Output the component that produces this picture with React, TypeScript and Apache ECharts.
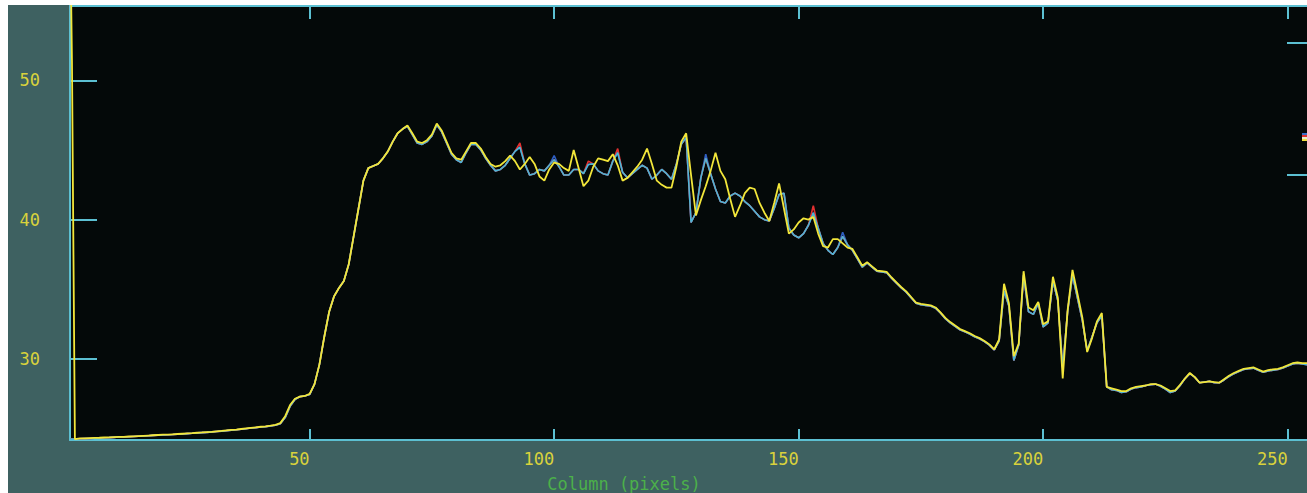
import React, { useEffect, useRef } from "react";
import * as echarts from "echarts";

// Column values (x = 1..255) shared by the cyan / blue / red traces
const common = [
  24.25, 24.25, 24.28, 24.3, 24.3, 24.32, 24.33, 24.35, 24.36, 24.38,
  24.4, 24.41, 24.42, 24.44, 24.46, 24.48, 24.5, 24.52, 24.54, 24.55,
  24.57, 24.58, 24.6, 24.62, 24.65, 24.67, 24.7, 24.72, 24.74, 24.77,
  24.8, 24.83, 24.86, 24.9, 24.93, 24.96, 25.0, 25.05, 25.08, 25.12,
  25.15, 25.2, 25.25, 25.35, 25.8, 26.6, 27.1, 27.3, 27.35, 27.45,
  28.2, 29.6, 31.6, 33.4, 34.5, 35.1, 35.6, 36.8, 38.8, 40.8,
  42.8, 43.7, 43.85, 44.0, 44.4, 44.9, 45.6, 46.2, 46.5, 46.7,
  46.1, 45.5, 45.4, 45.6, 46.0, 46.8, 46.3, 45.5, 44.7, 44.3,
  44.1, 44.8, 45.4, 45.4, 45.0, 44.4, 43.9, 43.5, 43.6, 43.9,
  44.4, 44.9, 45.2, 44.0, 43.2, 43.3, 43.6, 43.5, 43.9, 44.3,
  43.8, 43.2, 43.2, 43.6, 43.6, 43.3, 43.96, 44.0, 43.5, 43.3,
  43.2, 44.2, 44.8, 43.4, 43.0, 43.3, 43.6, 43.9, 43.7, 42.9,
  43.2, 43.6, 43.3, 42.9, 44.0, 45.4, 45.9, 39.8, 40.5, 43.0,
  44.4, 43.3, 42.2, 41.3, 41.2, 41.7, 41.9, 41.7, 41.3, 41.0,
  40.6, 40.2, 40.0, 39.9, 40.8, 41.8, 41.9, 39.4, 38.9, 38.7,
  39.0, 39.6, 40.5, 39.4, 38.3, 37.8, 37.5, 38.0, 38.8, 38.2,
  37.8, 37.2, 36.6, 36.9, 36.6, 36.3, 36.25, 36.2, 35.8, 35.45,
  35.1, 34.8, 34.4, 34.0, 33.9, 33.85, 33.8, 33.65, 33.3, 32.9,
  32.6, 32.35, 32.1, 31.95, 31.8, 31.6, 31.45, 31.25, 31.0, 30.65,
  31.3, 34.9, 33.8, 29.9, 31.0, 36.0, 33.4, 33.2, 34.0, 32.3,
  32.6, 35.6, 34.2, 29.4, 33.4, 36.0, 34.4, 32.8, 30.6, 31.6,
  32.6, 33.1, 28.0, 27.8, 27.75, 27.6, 27.65, 27.85, 27.95, 28.0,
  28.1, 28.15, 28.2, 28.05, 27.85, 27.6, 27.7, 28.1, 28.6, 28.95,
  28.7, 28.3, 28.35, 28.4, 28.3, 28.3, 28.5, 28.75, 28.95, 29.1,
  29.25, 29.3, 29.35, 29.2, 29.05, 29.15, 29.2, 29.25, 29.35, 29.5,
  29.65, 29.7, 29.65, 29.6, 29.55,
];

// Yellow trace: a steep lead-in at the first column, then x = 2..255
const yellowLead = [
  [1, 62],
  [1.4, 51.4],
];
const yellow = [
  24.25, 24.3, 24.3, 24.32, 24.34, 24.35, 24.37, 24.38, 24.4,
  24.41, 24.42, 24.44, 24.45, 24.47, 24.49, 24.51, 24.53, 24.55, 24.57,
  24.58, 24.6, 24.62, 24.64, 24.66, 24.68, 24.71, 24.73, 24.76, 24.78,
  24.81, 24.84, 24.88, 24.91, 24.94, 24.98, 25.02, 25.06, 25.1, 25.14,
  25.17, 25.22, 25.28, 25.4, 25.9, 26.7, 27.15, 27.3, 27.35, 27.5,
  28.2, 29.6, 31.6, 33.4, 34.5, 35.1, 35.6, 36.8, 38.8, 40.8,
  42.8, 43.7, 43.85, 44.0, 44.4, 44.9, 45.6, 46.2, 46.5, 46.75,
  46.2, 45.6, 45.5, 45.7, 46.1, 46.9, 46.4, 45.6, 44.8, 44.4,
  44.3, 44.9, 45.5, 45.5, 45.1, 44.5, 44.0, 43.8, 43.9, 44.2,
  44.6, 44.2, 43.6, 44.0, 44.5, 44.0, 43.1, 42.8, 43.6, 44.1,
  44.0, 43.7, 43.5, 45.0, 43.7, 42.4, 42.8, 43.8, 44.4, 44.3,
  44.2, 44.7, 43.9, 42.8, 43.0, 43.4, 43.8, 44.3, 45.1, 44.0,
  42.8, 42.5, 42.3, 42.3, 43.8, 45.6, 46.2, 43.2, 40.3, 41.4,
  42.4, 43.5, 44.8, 43.5, 42.9, 41.5, 40.2, 41.0, 41.9, 42.3,
  42.2, 41.2, 40.5, 39.9, 41.2, 42.6, 40.8, 39.0, 39.3, 39.8,
  40.1, 40.0, 40.2, 39.0, 38.1, 38.0, 38.6, 38.6, 38.3, 38.0,
  37.9, 37.3, 36.7, 36.95, 36.65, 36.35, 36.3, 36.25, 35.85, 35.5,
  35.15, 34.85, 34.45, 34.05, 33.95, 33.9, 33.85, 33.7, 33.35, 32.95,
  32.65, 32.4, 32.15, 32.0, 31.85, 31.65, 31.5, 31.3, 31.05, 30.7,
  31.4, 35.4, 34.0, 30.2, 31.1, 36.3, 33.7, 33.5, 34.1, 32.5,
  32.7, 35.9, 34.4, 28.6, 33.5, 36.4, 34.7, 33.0, 30.5, 31.5,
  32.7, 33.3, 28.0, 27.9, 27.8, 27.7, 27.7, 27.9, 28.0, 28.05,
  28.1, 28.2, 28.2, 28.1, 27.9, 27.7, 27.75, 28.15, 28.6, 29.0,
  28.7, 28.3, 28.35, 28.4, 28.35, 28.3, 28.55, 28.8, 29.0, 29.15,
  29.3, 29.35, 29.4, 29.25, 29.1, 29.2, 29.26, 29.3, 29.4, 29.55,
  29.7, 29.75, 29.7, 29.7, 29.65,
];

// Columns where the red / blue traces poke out from under the cyan one
const redPeaks = [
  [93, 45.5],
  [107, 44.2],
  [113, 45.1],
  [153, 41.0],
];
const bluePeaks = [
  [100, 44.6],
  [131, 44.7],
  [159, 39.1],
];

const xTicks = [50, 100, 150, 200, 250];
const yTicks = [30, 40, 50];
const rightTicks = [43.25, 52.7];

const AX = "#5cc0d2";
const LAB = "#d9d23c";
const FONT = "DejaVu Sans Mono";

export default function App() {
  const ref = useRef<HTMLDivElement>(null);

  useEffect(() => {
    if (!ref.current) return;
    const chart = echarts.init(ref.current, null, { renderer: "svg" });

    const cols = common.map((_, i) => i + 1);
    const withPeaks = (peaks: number[][]) =>
      cols.map((x, i) => {
        const p = peaks.find((q) => q[0] === x);
        return [x, p ? p[1] : common[i]];
      });
    const cyanData = cols.map((x, i) => [x, common[i]]);
    const yellowData = [
      ...yellowLead,
      ...yellow.map((v, i) => [i + 2, v]),
    ];

    const lineAxis = { show: true, onZero: false, lineStyle: { color: AX, width: 2 } };

    chart.setOption({
      animation: false,
      backgroundColor: "#3e6161",
      grid: {
        left: 62,
        top: 1,
        right: 21,
        bottom: 53,
        show: true,
        backgroundColor: "#040909",
        borderWidth: 0,
      },
      xAxis: [
        {
          type: "value",
          min: 1,
          max: 256,
          position: "bottom",
          axisLine: lineAxis,
          axisTick: {
            show: true,
            inside: true,
            length: 11,
            customValues: xTicks,
            lineStyle: { color: AX, width: 2 },
          },
          axisLabel: {
            customValues: xTicks,
            color: LAB,
            fontFamily: FONT,
            fontSize: 17,
            align: "right",
            margin: 10,
          },
          splitLine: { show: false },
        },
        {
          type: "value",
          min: 1,
          max: 256,
          position: "top",
          axisLine: lineAxis,
          axisTick: {
            show: true,
            inside: true,
            length: 13,
            customValues: xTicks,
            lineStyle: { color: AX, width: 2 },
          },
          axisLabel: { show: false },
          splitLine: { show: false },
        },
      ],
      yAxis: [
        {
          type: "value",
          min: 24.19,
          max: 55.33,
          position: "left",
          axisLine: lineAxis,
          axisTick: {
            show: true,
            inside: true,
            length: 27,
            customValues: yTicks,
            lineStyle: { color: AX, width: 2 },
          },
          axisLabel: {
            customValues: yTicks,
            color: LAB,
            fontFamily: FONT,
            fontSize: 17,
            margin: 30,
          },
          splitLine: { show: false },
        },
        {
          type: "value",
          min: 24.19,
          max: 55.33,
          position: "right",
          axisLine: lineAxis,
          axisTick: {
            show: true,
            inside: true,
            length: 30,
            customValues: rightTicks,
            lineStyle: { color: AX, width: 2 },
          },
          axisLabel: { show: false },
          splitLine: { show: false },
        },
      ],
      series: [
        {
          type: "line",
          data: withPeaks(bluePeaks),
          symbol: "none",
          clip: true,
          lineStyle: { color: "#2f5fc4", width: 1.6 },
        },
        {
          type: "line",
          data: withPeaks(redPeaks),
          symbol: "none",
          clip: true,
          lineStyle: { color: "#e23030", width: 1.6 },
        },
        {
          type: "line",
          data: cyanData,
          symbol: "none",
          clip: true,
          lineStyle: { color: "#4cb6d6", width: 1.6 },
        },
        {
          type: "line",
          data: yellowData,
          symbol: "none",
          clip: true,
          lineStyle: { color: "#f2e63a", width: 1.8 },
        },
      ],
      graphic: [
        {
          type: "text",
          x: 616,
          y: 479,
          style: {
            text: "Column (pixels)",
            fill: "#4cb04a",
            font: `17px '${FONT}'`,
            align: "center",
            verticalAlign: "middle",
          },
        },
        { type: "rect", shape: { x: 1294, y: 128, width: 8, height: 2 }, style: { fill: "#3a70c8" } },
        { type: "rect", shape: { x: 1294, y: 130, width: 8, height: 2 }, style: { fill: "#e03030" } },
        { type: "rect", shape: { x: 1294, y: 132, width: 8, height: 2 }, style: { fill: "#e8efd0" } },
        { type: "rect", shape: { x: 1294, y: 134, width: 8, height: 2 }, style: { fill: "#f0e040" } },
      ],
    });

    return () => chart.dispose();
  }, []);

  return (
    <div
      style={{
        position: "absolute",
        left: 8,
        top: 5,
        width: 1299,
        height: 488,
        overflow: "hidden",
        background: "#3e6161",
      }}
    >
      <div ref={ref} style={{ width: 1330, height: 488 }} />
    </div>
  );
}
